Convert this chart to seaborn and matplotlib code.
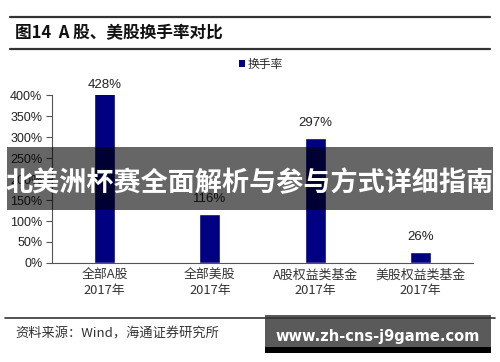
import matplotlib
matplotlib.use("Agg")
import matplotlib.pyplot as plt
import seaborn as sns
import pandas as pd
from matplotlib.patches import Patch, Rectangle
from matplotlib.lines import Line2D

categories = ["全部A股\n2017年", "全部美股\n2017年", "A股权益类基金\n2017年", "美股权益类基金\n2017年"]
turnover = [428, 116, 297, 26]
series_name = "换手率"
yticks = [0, 50, 100, 150, 200, 250, 300, 350, 400]

sns.set_theme(style="white")
plt.rcParams['font.family'] = ['Liberation Sans', 'Noto Sans CJK SC', 'DejaVu Sans']

df = pd.DataFrame({"cat": categories, "val": turnover})

fig = plt.figure(figsize=(5, 3.62), dpi=100)
ax = fig.add_axes([0.104, 0.2735, 0.842, 0.464])
sns.barplot(data=df, x="cat", y="val", color="#000080", width=0.2, saturation=1, ax=ax)

ymax = 400
ax.set_ylim(0, ymax)
ax.set_xlim(-0.5, 3.5)
ax.set_yticks(yticks)
ax.set_yticklabels([f"{t}%" for t in yticks], fontsize=9, color="#222222")
ax.set_xlabel("")
ax.set_ylabel("")
ax.set_xticks(range(len(categories)))
ax.set_xticklabels(categories, fontsize=9.3, color="#333333", family=['Noto Sans CJK SC'], linespacing=1.25)
ax.set_xticks([0.5, 1.5, 2.5, 3.5], minor=True)
ax.tick_params(axis="x", which="major", length=0, pad=4)
ax.tick_params(axis="x", which="minor", length=4, width=0.8, color="#555555", direction="out")
ax.tick_params(axis="y", length=4, width=0.8, color="#555555", direction="out", left=True, pad=3)
for s in ["top", "right"]:
    ax.spines[s].set_visible(False)
for s in ["left", "bottom"]:
    ax.spines[s].set_color("#555555")
    ax.spines[s].set_linewidth(0.8)

for i, v in enumerate(turnover):
    clipped = v > ymax
    ax.annotate(f"{v}%", xy=(i, min(v, ymax)), xytext=(0, 10 if clipped else 15),
                textcoords="offset pixels", ha="center", va="center", fontsize=9.5,
                color="#222222", annotation_clip=False)

fig.legend(handles=[Patch(facecolor="#000080", edgecolor="none")], labels=[series_name],
           loc="center", bbox_to_anchor=(0.522, 0.822), frameon=False,
           handlelength=0.5, handleheight=0.5, handletextpad=0.3,
           prop={'family': 'Noto Sans CJK SC', 'size': 8.5})

# title with rules
fig.add_artist(Line2D([0.02, 0.98], [1 - 17/362, 1 - 17/362], color="#333333", lw=1.6))
fig.add_artist(Line2D([0.02, 0.98], [1 - 49/362, 1 - 49/362], color="#333333", lw=1.6))
fig.text(0.03, 1 - 33/362, "图14  A 股、美股换手率对比", fontsize=12, fontweight="bold",
         va="center", ha="left", color="#111111", family=['Noto Sans CJK SC'])

# source rule and text
fig.add_artist(Line2D([0.01, 0.99], [1 - 318/362, 1 - 318/362], color="#333333", lw=1.2))
fig.text(0.03, 1 - 334/362, "资料来源：Wind，海通证券研究所", fontsize=9.5, va="center", ha="left",
         color="#333333", family=['Noto Sans CJK SC'])

# overlay banner
fig.add_artist(Rectangle((7/500, 1 - 210/362), 486/500, 63/362, transform=fig.transFigure,
                         facecolor="black", alpha=0.6, edgecolor="none"))
fig.text(0.5, 1 - 183/362, "北美洲杯赛全面解析与参与方式详细指南", fontsize=19.5, fontweight="bold",
         color="white", ha="center", va="center", family=['Noto Sans CJK SC'])

# watermark box
fig.add_artist(Rectangle((265/500, 1 - 353/362), 226/500, 38/362, transform=fig.transFigure,
                         facecolor="#000000", edgecolor="none"))
fig.add_artist(Rectangle((265/500, 1 - 347/362), 226/500, 32/362, transform=fig.transFigure,
                         facecolor="#5a5a5a", edgecolor="none"))
fig.text(378/500, 1 - 336/362, "www.zh-cns-j9game.com", fontsize=10.5, fontweight="bold",
         color="white", ha="center", va="center", family=['DejaVu Sans'])

fig.savefig("out.png", dpi=100)
